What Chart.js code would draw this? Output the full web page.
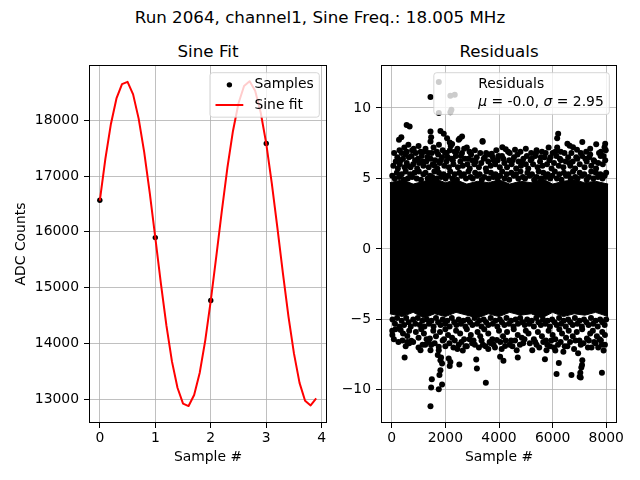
<!DOCTYPE html>
<html>
<head>
<meta charset="utf-8">
<script src="https://cdn.jsdelivr.net/npm/chart.js@4.4.1/dist/chart.umd.min.js"></script>
<style>
  body { margin: 0; background: #fff; width: 640px; height: 480px; overflow: hidden; position: relative; font-family: "DejaVu Sans", sans-serif; }
  .ttl { position: absolute; text-align: center; color: #000; font-size: 16.7px; line-height: 16.7px; white-space: nowrap; }
  .pane { position: absolute; top: 0; }
</style>
</head>
<body>
<div class="ttl" style="left:0; width:640px; top:9px;">Run 2064, channel1, Sine Freq.: 18.005 MHz</div>
<div class="ttl" style="left:89px; width:238px; top:43px;">Sine Fit</div>
<div class="ttl" style="left:381px; width:236px; top:43px;">Residuals</div>
<canvas class="pane" id="fitChart" width="330" height="480" style="left:0"></canvas>
<canvas class="pane" id="residChart" width="310" height="480" style="left:330px"></canvas>
<script>
// ---- dati: fit sinusoidale ----
const sampleX = [0, 1, 2, 3];
const sampleY = [16567, 15896, 14768, 17586];

const fitX = [0, 0.1, 0.2, 0.3, 0.4, 0.5, 0.6, 0.7, 0.8, 0.9,
  1, 1.1, 1.2, 1.3, 1.4, 1.5, 1.6, 1.7, 1.8, 1.9,
  2, 2.1, 2.2, 2.3, 2.4, 2.5, 2.6, 2.7, 2.8, 2.9,
  3, 3.1, 3.2, 3.3, 3.4, 3.5, 3.6, 3.7, 3.8, 3.9];
const fitY = [16558, 17308, 17935, 18392, 18650, 18689, 18465, 18030, 17429, 16698,
  15895, 15081, 14321, 13675, 13202, 12917, 12874, 13072, 13467, 14048,
  14766, 15564, 16381, 17149, 17809, 18306, 18615, 18701, 18530, 18140,
  17582, 16869, 16077, 15259, 14483, 13814, 13290, 12970, 12885, 13010];

const fitTicksX = [0, 1, 2, 3, 4];
const fitTicksY = [13000, 14000, 15000, 16000, 17000, 18000];

// ---- dati: residui ----
// fascia compatta dove i punti si sovrappongono del tutto
const bandX  = [-70, 400, 800, 1200, 1600, 2000, 2400, 2800, 3200, 3600, 4000, 4400, 4800, 5200, 5600, 6000, 6400, 6800, 7200, 7600, 8070];
const bandHi = [4.7, 4.9, 4.6, 4.8, 5.0, 4.7, 4.9, 4.6, 4.8, 4.7, 4.9, 4.6, 4.8, 4.7, 5.0, 4.6, 4.8, 4.9, 4.7, 4.8, 4.6];
const bandLo = [-4.6, -4.8, -4.5, -4.9, -4.6, -4.8, -4.5, -4.7, -4.9, -4.6, -4.8, -4.5, -4.7, -4.6, -4.9, -4.5, -4.8, -4.6, -4.7, -4.5, -4.8];

// punti sparsi sopra la fascia [campione, residuo]
const residUpper = [
  [20,5.2],[110,5.0],[190,5.4],[280,5.1],[370,5.3],[450,4.9],[520,5.5],[600,5.0],[690,5.3],[760,5.1],
  [850,5.4],[930,5.0],[1010,5.5],[1090,4.9],[1180,5.3],[1260,5.4],[1340,5.0],[1430,5.2],[1510,5.1],[1590,5.5],
  [1680,5.0],[1760,5.4],[1840,5.1],[1930,5.3],[2010,5.0],[2100,5.2],[2180,5.5],[2260,5.0],[2350,5.3],[2430,4.9],
  [2520,5.4],[2600,5.2],[2690,5.3],[2770,5.0],[2860,5.5],[2940,5.1],[3020,5.0],[3110,5.4],[3190,5.2],[3280,5.3],
  [3360,4.9],[3450,5.1],[3530,5.5],[3620,5.0],[3700,5.4],[3790,5.1],[3870,5.3],[3950,5.0],[4040,5.2],[4120,5.5],
  [4210,5.0],[4290,5.3],[4380,4.9],[4460,5.4],[4550,5.2],[4630,5.3],[4720,5.0],[4800,5.5],[4890,5.1],[4970,5.0],
  [5060,5.4],[5140,5.2],[5230,5.3],[5310,4.9],[5400,5.1],[5480,5.5],[5570,5.0],[5650,5.4],[5740,5.1],[5820,5.3],
  [5910,5.0],[5990,5.2],[6080,5.5],[6160,5.0],[6250,5.3],[6330,4.9],[6420,5.4],[6500,5.2],[6590,5.3],[6670,5.0],
  [6760,5.5],[6840,5.1],[6930,5.0],[7010,5.4],[7100,5.2],[7180,5.3],[7270,4.9],[7350,5.1],[7440,5.5],[7520,5.0],
  [7610,5.4],[7690,5.1],[7780,5.3],[7860,5.0],[7940,5.2],[7995,5.4],
  [60,5.9],[150,6.2],[230,5.7],[300,6.0],[420,6.4],[480,5.8],[560,6.1],[640,6.5],[700,5.8],[800,6.0],
  [870,6.3],[950,5.7],[1020,6.1],[1120,6.6],[1180,5.9],[1290,6.2],[1380,5.8],[1450,6.4],[1530,6.0],[1620,6.3],
  [1700,5.7],[1790,6.1],[1880,6.5],[1960,5.9],[2040,6.2],[2130,5.8],[2230,6.4],[2300,6.0],[2390,6.6],[2470,5.8],
  [2560,6.2],[2650,5.9],[2730,6.4],[2820,6.0],[2910,5.7],[3000,6.3],[3080,6.0],[3170,6.5],[3250,5.8],[3340,6.1],
  [3430,6.4],[3510,5.7],[3600,6.2],[3690,5.9],[3770,6.5],[3860,6.0],[3950,6.3],[4030,5.8],[4110,6.6],[4200,6.1],
  [4300,5.8],[4380,6.3],[4470,6.0],[4560,6.5],[4640,5.7],[4730,6.2],[4820,5.9],[4910,6.4],[5000,6.0],[5090,5.7],
  [5180,6.3],[5270,6.0],[5350,6.6],[5440,5.8],[5530,6.2],[5620,5.9],[5700,6.5],[5790,6.0],[5880,6.3],[5960,5.7],
  [6050,6.1],[6140,6.6],[6230,5.9],[6310,6.3],[6400,5.8],[6490,6.2],[6580,6.5],[6660,5.9],[6750,6.2],[6840,5.7],
  [6920,6.4],[7010,6.0],[7100,6.6],[7190,5.8],[7270,6.2],[7360,6.5],[7440,5.9],[7530,6.3],[7620,5.7],[7700,6.1],
  [7790,6.6],[7870,6.0],[7960,6.3],
  [90,6.8],[210,6.5],[340,6.3],[510,6.7],[590,5.9],[740,6.6],[820,7.1],[980,6.4],[1150,6.2],[1220,6.9],
  [1330,6.5],[1490,6.8],[1600,5.9],[1730,6.7],[1830,6.3],[1990,6.8],[2090,6.5],[2170,7.0],[2280,6.3],[2410,6.9],
  [2580,6.6],[2700,7.1],[2860,6.4],[2960,6.7],[3130,6.2],[3300,6.8],[3470,6.5],[3640,6.7],[3800,6.3],[3980,6.6],
  [4160,6.4],[4340,6.9],[4510,6.3],[4690,6.7],[4860,6.2],[5040,6.6],[5220,6.4],[5380,6.8],[5560,6.5],[5740,6.8],
  [5920,6.5],[6100,6.9],[6270,6.4],[6440,6.8],[6620,6.1],[6700,6.8],[6880,6.5],[7050,6.8],[7220,6.4],[7400,6.7],
  [7560,6.2],[7730,6.8],[7900,6.6],[7980,7.0],
  [290,7.0],[370,6.8],[470,7.2],[560,6.9],[620,7.4],[760,7.0],[900,6.8],[1000,7.3],[1080,6.9],[1260,7.1],
  [1380,6.8],[1560,7.2],[1680,6.9],[1760,7.4],[1900,7.0],[2050,6.8],[2200,7.3],[2350,6.9],[2450,7.1],[2620,6.8],
  [2800,7.2],[2900,6.9],[3100,7.0],[3390,7.6],[3520,6.8],[3730,6.75],[3900,7.0],[4127,7.22],[4251,7.08],[4400,6.8],
  [4597,7.03],[4800,6.9],[5000,7.1],[5200,6.8],[5400,7.0],[5600,6.9],[5850,7.2],[6000,6.8],[6169,7.2],[6300,6.9],
  [6550,7.46],[6636,7.32],[6760,7.22],[6908,7.03],[7106,7.58],[7250,6.9],[7400,7.1],[7625,7.43],[7800,6.9],[7935,7.22],
  [7959,7.46],
  [271,7.74],[358,7.93],[556,8.79],[667,8.69],[1446,8.33],[1470,7.93],[1446,7.63],[1817,8.36],[1940,8.17],[2064,7.86],
  [2163,7.55],[2252,7.44],[2497,7.74],[2534,7.84],[2622,7.98],[3386,7.65],[6206,8.17],[6169,7.86],
  [1446,10.78],[2349,10.94],[1755,11.84],[1755,9.64],[2188,10.87],[2225,9.88],[2188,9.69]
];

// punti sparsi sotto la fascia [campione, residuo]
const residLower = [
  [30,-5.0],[120,-5.3],[200,-4.9],[290,-5.5],[370,-5.1],[460,-5.4],[540,-4.9],[630,-5.2],[710,-5.5],[800,-5.0],
  [880,-5.3],[970,-4.9],[1050,-5.4],[1140,-5.1],[1220,-5.5],[1310,-5.0],[1390,-5.3],[1480,-5.1],[1560,-5.5],[1650,-4.9],
  [1730,-5.2],[1820,-5.4],[1900,-5.0],[1990,-5.3],[2070,-5.1],[2160,-5.5],[2240,-4.9],[2330,-5.2],[2410,-5.4],[2500,-5.0],
  [2580,-5.3],[2670,-5.1],[2750,-5.5],[2840,-5.0],[2920,-5.2],[3010,-5.4],[3090,-4.9],[3180,-5.3],[3260,-5.1],[3350,-5.5],
  [3430,-5.0],[3520,-5.2],[3600,-5.4],[3690,-4.9],[3770,-5.3],[3860,-5.1],[3940,-5.5],[4030,-5.0],[4110,-5.2],[4200,-5.4],
  [4280,-4.9],[4370,-5.3],[4450,-5.1],[4540,-5.5],[4620,-5.0],[4710,-5.3],[4790,-4.9],[4880,-5.2],[4960,-5.4],[5050,-5.0],
  [5130,-5.3],[5220,-5.1],[5300,-5.5],[5390,-4.9],[5470,-5.2],[5560,-5.4],[5640,-5.0],[5730,-5.3],[5810,-5.1],[5900,-5.5],
  [5980,-5.0],[6070,-5.2],[6150,-5.4],[6240,-4.9],[6320,-5.3],[6410,-5.1],[6490,-5.5],[6580,-5.0],[6660,-5.2],[6750,-5.4],
  [6830,-4.9],[6920,-5.3],[7000,-5.1],[7090,-5.5],[7170,-5.0],[7260,-5.2],[7340,-5.4],[7430,-4.9],[7510,-5.3],[7600,-5.1],
  [7680,-5.5],[7770,-5.0],[7850,-5.2],[7940,-5.4],[7995,-5.0],
  [20,-5.8],[24,-6.1],[140,-5.7],[333,-5.76],[420,-6.0],[580,-6.18],[650,-5.8],[728,-6.51],[900,-5.9],[1000,-6.3],
  [1100,-5.7],[1200,-6.0],[1300,-6.4],[1421,-6.35],[1550,-5.8],[1650,-6.2],[1800,-5.9],[1900,-6.5],[2000,-5.7],[2100,-6.1],
  [2250,-6.3],[2400,-5.8],[2550,-6.0],[2700,-6.4],[2800,-5.7],[2950,-6.1],[3050,-6.5],[3200,-5.9],[3300,-6.2],[3450,-5.7],
  [3600,-6.0],[3750,-6.4],[3917,-6.47],[4000,-5.8],[4150,-6.2],[4300,-5.9],[4450,-6.5],[4550,-5.7],[4700,-6.1],[4850,-6.3],
  [5000,-5.8],[5100,-6.0],[5300,-6.4],[5450,-5.9],[5600,-6.2],[5750,-6.5],[5850,-5.8],[6000,-6.1],[6100,-6.4],[6250,-5.7],
  [6350,-6.0],[6500,-6.3],[6600,-5.8],[6750,-6.2],[6900,-5.9],[7000,-6.5],[7100,-5.7],[7279,-6.35],[7400,-6.0],[7500,-5.8],
  [7650,-6.2],[7750,-6.4],[7850,-5.9],[7950,-6.1],
  [80,-6.4],[250,-6.6],[400,-6.5],[520,-6.9],[800,-6.6],[1250,-6.8],[1380,-6.6],[1600,-6.7],[1950,-6.4],[2150,-6.7],
  [2350,-6.5],[2450,-7.1],[2600,-6.6],[2750,-6.9],[2900,-6.4],[3100,-6.8],[3350,-6.5],[3500,-6.9],[3650,-6.6],[3800,-6.8],
  [4050,-6.6],[4250,-6.5],[4500,-6.9],[4600,-6.5],[4780,-6.8],[4950,-6.4],[5150,-6.7],[5350,-6.6],[5500,-7.0],[5650,-6.6],
  [5800,-6.8],[5950,-6.5],[6050,-7.0],[6300,-6.6],[6450,-6.9],[6650,-6.6],[6850,-6.5],[7150,-6.7],[7350,-6.5],[7450,-7.0],
  [7550,-6.6],[7800,-6.5],[7950,-6.8],
  [580,-6.6],[650,-6.7],[1074,-7.18],[1000,-7.0],[1150,-6.8],[1445,-7.18],[1470,-6.82],[1717,-7.53],[1754,-7.18],[1754,-6.94],
  [2000,-6.9],[2300,-7.0],[2500,-6.8],[2650,-7.2],[2800,-6.9],[3000,-6.7],[3250,-7.0],[3400,-6.8],[3600,-7.1],[3700,-6.7],
  [3850,-7.0],[4100,-7.1],[4227,-6.89],[4400,-6.8],[4659,-7.18],[4900,-6.7],[5240,-7.18],[5400,-6.8],[5771,-7.18],[5900,-6.9],
  [6100,-7.2],[6200,-6.8],[6400,-7.3],[6550,-6.9],[6800,-7.1],[6950,-7.4],[7050,-6.8],[7316,-6.99],[7600,-6.7],[7700,-7.0],
  [7836,-6.8],[7900,-7.2],
  [481,-7.70],[1445,-11.16],[1470,-9.83],[1495,-9.24],[1754,-9.95],[1878,-9.62],[1779,-8.95],[1816,-8.6],[1878,-8.13],[1816,-7.89],
  [1840,-7.70],[2162,-8.31],[2187,-8.03],[2125,-7.77],[2520,-8.2],[3176,-8.48],[3151,-7.84],[3509,-9.50],[4041,-7.65],[4165,-7.94],
  [4700,-7.70],[5712,-7.82],[6146,-8.88],[6231,-8.10],[6702,-8.95],[7007,-9.07],[7047,-9.12],[7032,-8.79],[7069,-8.41],[7096,-8.24],
  [7106,-7.89],[7838,-8.79]
];

const residTicksX = [0, 2000, 4000, 6000, 8000];
const residTicksY = [-10, -5, 0, 5, 10];

const FS = 13.9;
Chart.defaults.font.family = "'DejaVu Sans'";
Chart.defaults.font.size = FS;
Chart.defaults.color = '#000';

const fmtMinus = v => String(v).replace('-', '\u2212');

// cornice degli assi + legenda dentro l'area del grafico, stile matplotlib
const innerLegend = {
  id: 'innerLegend',
  afterDatasetsDraw(chart, args, opts) {
    const ctx = chart.ctx;
    const a = chart.chartArea;
    ctx.save();
    ctx.strokeStyle = '#000';
    ctx.lineWidth = 1;
    ctx.strokeRect(a.left + 0.5, a.top + 0.5, a.right - a.left - 1, a.bottom - a.top - 1);

    const pad = 0.4 * FS, handleLen = 2 * FS, handleGap = 0.8 * FS, spacing = 0.5 * FS;
    const rowH = 13.2, lineAdv = 17.4;
    const fontOf = it => (it ? 'italic ' : '') + FS + "px 'DejaVu Sans'";
    let textW = 0;
    opts.entries.forEach(e => e.lines.forEach(line => {
      let w = 0;
      line.forEach(([t, it]) => { ctx.font = fontOf(it); w += ctx.measureText(t).width; });
      textW = Math.max(textW, w);
    }));
    const heights = opts.entries.map(e => rowH + (e.lines.length - 1) * lineAdv);
    const boxW = 2 * pad + handleLen + handleGap + textW;
    const boxH = 2 * pad + heights.reduce((s, h) => s + h, 0) + spacing * (heights.length - 1);
    const bx = a.right - 7.7 - boxW, by = a.top + 7.7;

    ctx.beginPath();
    ctx.roundRect(bx, by, boxW, boxH, 2.8);
    ctx.fillStyle = 'rgba(255,255,255,0.8)';
    ctx.fill();
    ctx.strokeStyle = 'rgba(204,204,204,0.8)';
    ctx.stroke();

    let y = by + pad;
    opts.entries.forEach((e, i) => {
      const cy = y + rowH / 2;
      const hx = bx + pad;
      if (e.handle === 'dot') {
        ctx.beginPath();
        ctx.arc(hx + handleLen / 2, cy, 2.7, 0, Math.PI * 2);
        ctx.fillStyle = e.color;
        ctx.fill();
      } else if (e.handle === 'line') {
        ctx.beginPath();
        ctx.moveTo(hx, cy);
        ctx.lineTo(hx + handleLen, cy);
        ctx.strokeStyle = e.color;
        ctx.lineWidth = 2;
        ctx.stroke();
      }
      ctx.fillStyle = '#000';
      ctx.textBaseline = 'middle';
      ctx.textAlign = 'left';
      e.lines.forEach((line, k) => {
        let tx = hx + handleLen + handleGap;
        line.forEach(([t, it]) => {
          ctx.font = fontOf(it);
          ctx.fillText(t, tx, cy + k * lineAdv);
          tx += ctx.measureText(t).width;
        });
      });
      y += heights[i] + spacing;
    });
    ctx.restore();
  }
};

function axisBase(ticks, fmt) {
  return {
    type: 'linear',
    afterBuildTicks: s => { s.ticks = ticks.map(v => ({ value: v })); },
    ticks: { color: '#000', font: { size: FS }, callback: fmt, autoSkip: false, maxRotation: 0 },
    grid: { color: '#b0b0b0', lineWidth: 0.8, tickColor: '#000', tickLength: 5, tickWidth: 1 },
    border: { display: false }
  };
}

const fitXAxis = axisBase(fitTicksX, v => String(v));
fitXAxis.min = -0.195; fitXAxis.max = 4.095;
fitXAxis.ticks.padding = 2;
fitXAxis.title = { display: true, text: 'Sample #', color: '#000', font: { size: FS }, padding: { top: 0, bottom: 14.5 } };
fitXAxis.afterFit = s => { s.height = 57; };

const fitYAxis = axisBase(fitTicksY, v => String(v));
fitYAxis.min = 12570; fitYAxis.max = 18992;
fitYAxis.ticks.padding = 5;
fitYAxis.title = { display: true, text: 'ADC Counts', color: '#000', font: { size: FS }, padding: { top: 13, bottom: 0 } };
fitYAxis.afterFit = s => { s.width = 89; };

new Chart(document.getElementById('fitChart'), {
  type: 'scatter',
  data: {
    datasets: [
      { label: 'Sine fit', data: fitX.map((x, i) => ({ x, y: fitY[i] })), showLine: true,
        borderColor: '#ff0000', borderWidth: 2, borderJoinStyle: 'round', pointRadius: 0, order: 1 },
      { label: 'Samples', data: sampleX.map((x, i) => ({ x, y: sampleY[i] })),
        pointRadius: 2.7, pointBackgroundColor: '#000', pointBorderWidth: 0, order: 2 }
    ]
  },
  options: {
    responsive: false, animation: false, events: [],
    layout: { padding: { top: 65, left: 0, right: 3, bottom: 0 }, autoPadding: false },
    scales: { x: fitXAxis, y: fitYAxis },
    plugins: {
      legend: { display: false }, tooltip: { enabled: false },
      innerLegend: { entries: [
        { lines: [[['Samples']]], handle: 'dot', color: '#000' },
        { lines: [[['Sine fit']]], handle: 'line', color: '#ff0000' }
      ] }
    }
  },
  plugins: [innerLegend]
});

const resXAxis = axisBase(residTicksX, v => String(v));
resXAxis.min = -400; resXAxis.max = 8400;
resXAxis.ticks.padding = 2;
resXAxis.title = { display: true, text: 'Sample #', color: '#000', font: { size: FS }, padding: { top: 0, bottom: 14.5 } };
resXAxis.afterFit = s => { s.height = 57; };

const resYAxis = axisBase(residTicksY, fmtMinus);
resYAxis.min = -12.35; resYAxis.max = 13.05;
resYAxis.ticks.padding = 5;
resYAxis.afterFit = s => { s.width = 51; };

const residPoints = residUpper.concat(residLower).map(([x, y]) => ({ x, y }));

new Chart(document.getElementById('residChart'), {
  type: 'scatter',
  data: {
    datasets: [
      { type: 'line', label: 'band top', data: bandX.map((x, i) => ({ x, y: bandHi[i] })),
        fill: '+1', backgroundColor: '#000', borderColor: '#000', borderWidth: 1, pointRadius: 0 },
      { type: 'line', label: 'band bottom', data: bandX.map((x, i) => ({ x, y: bandLo[i] })),
        fill: false, borderColor: '#000', borderWidth: 1, pointRadius: 0 },
      { label: 'Residuals', data: residPoints,
        pointRadius: 3, pointBackgroundColor: '#000', pointBorderWidth: 0 }
    ]
  },
  options: {
    responsive: false, animation: false, events: [],
    layout: { padding: { top: 65, left: 0, right: 23, bottom: 0 }, autoPadding: false },
    scales: { x: resXAxis, y: resYAxis },
    plugins: {
      legend: { display: false }, tooltip: { enabled: false },
      innerLegend: { entries: [
        { lines: [[['Residuals']], [['\u03bc', true], [' = -0.0, '], ['\u03c3', true], [' = 2.95']]], handle: null }
      ] }
    }
  },
  plugins: [innerLegend]
});
</script>
</body>
</html>
